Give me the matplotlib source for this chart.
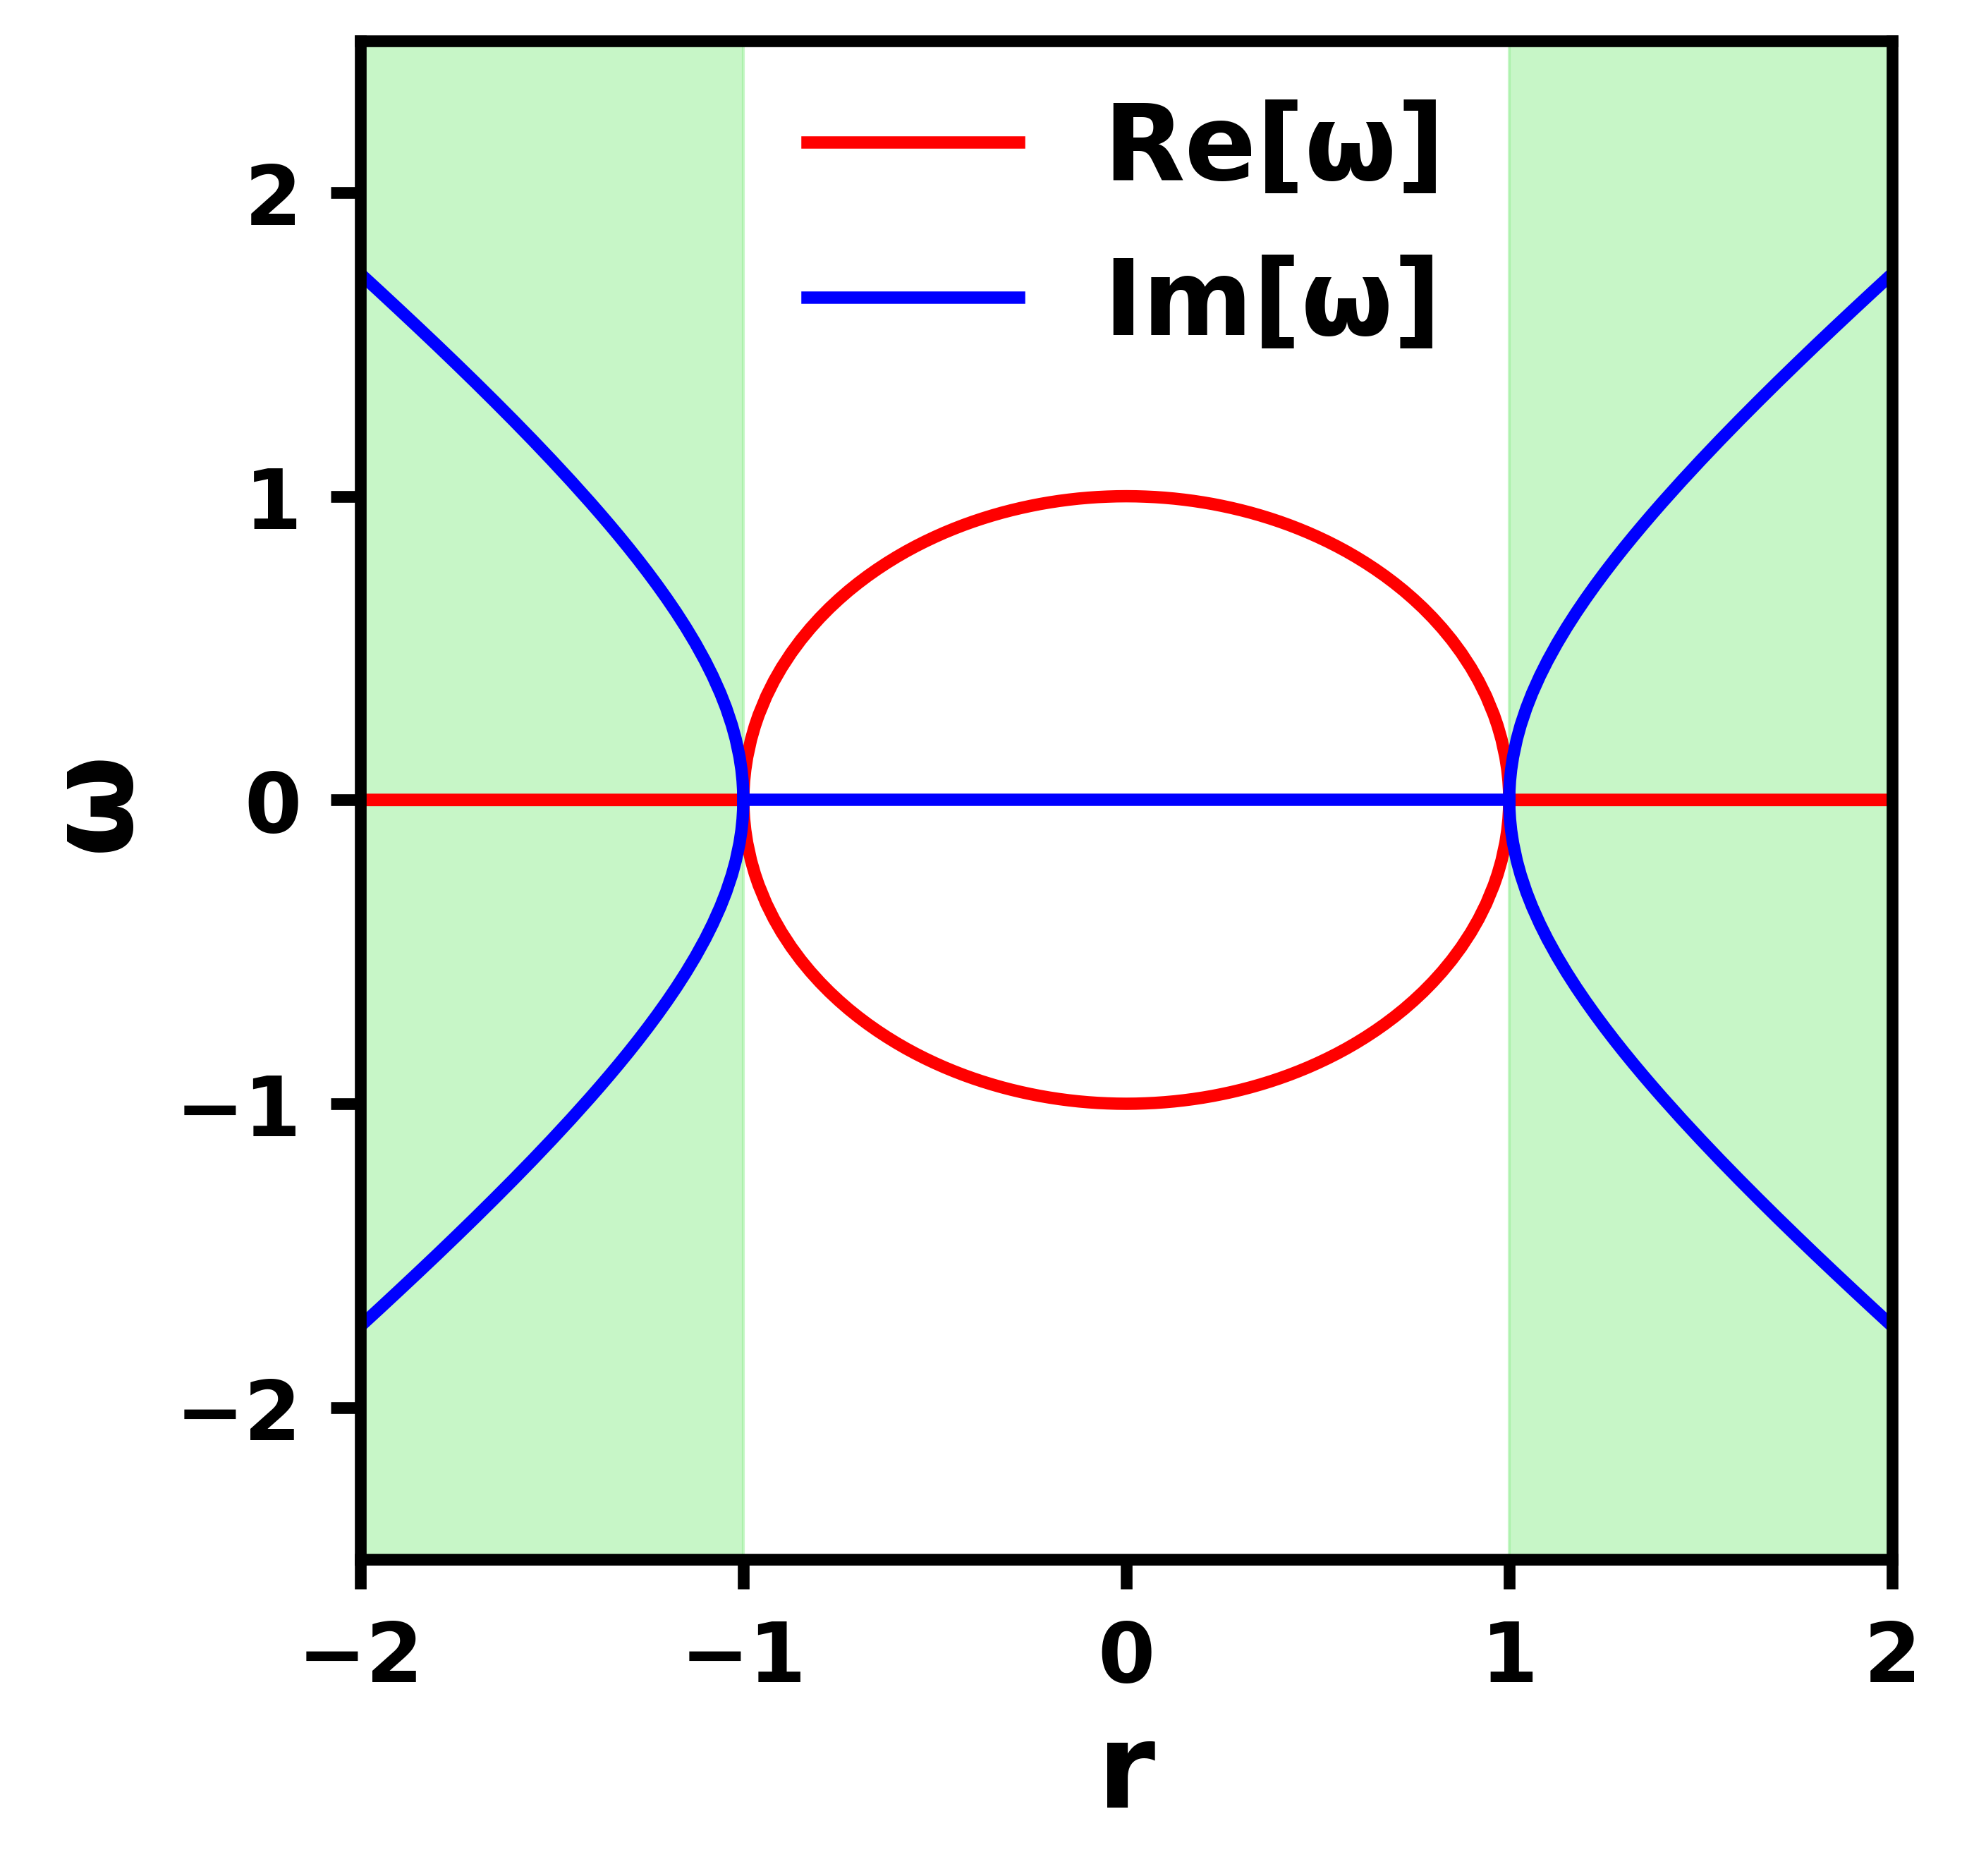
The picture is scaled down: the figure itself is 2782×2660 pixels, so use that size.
import numpy as np
import matplotlib.pyplot as plt

# upper branch of Re[w] for 0 <= r <= 1 (mirrored in r and in sign)
r_re = [0.0, 0.025, 0.05, 0.075, 0.1, 0.125, 0.15, 0.175, 0.2, 0.225, 0.25, 0.275,
        0.3, 0.325, 0.35, 0.375, 0.4, 0.425, 0.45, 0.475, 0.5, 0.525, 0.55, 0.575,
        0.6, 0.625, 0.65, 0.675, 0.7, 0.725, 0.75, 0.775, 0.8, 0.825, 0.85, 0.875,
        0.9, 0.92, 0.94, 0.96, 0.97, 0.98, 0.99, 0.995, 0.998, 0.9995, 1.0]
re_vals = [1.0, 0.9997, 0.9987, 0.9972, 0.9950, 0.9922, 0.9887, 0.9846, 0.9798, 0.9744,
           0.9682, 0.9614, 0.9539, 0.9457, 0.9367, 0.9270, 0.9165, 0.9052, 0.8930,
           0.8800, 0.8660, 0.8511, 0.8352, 0.8182, 0.8000, 0.7806, 0.7599, 0.7378,
           0.7141, 0.6888, 0.6614, 0.6320, 0.6000, 0.5651, 0.5268, 0.4841, 0.4359,
           0.3919, 0.3412, 0.2800, 0.2431, 0.1990, 0.1411, 0.0999, 0.0632, 0.0316, 0.0]

# upper branch of Im[w] for 1 <= r <= 2 (mirrored in r and in sign)
r_im = [1.0, 1.0005, 1.002, 1.005, 1.01, 1.02, 1.03, 1.045, 1.06, 1.08, 1.1, 1.125,
        1.15, 1.175, 1.2, 1.225, 1.25, 1.275, 1.3, 1.325, 1.35, 1.375, 1.4, 1.45,
        1.5, 1.55, 1.6, 1.65, 1.7, 1.75, 1.8, 1.85, 1.9, 1.95, 2.0]
im_vals = [0.0, 0.0316, 0.0633, 0.1001, 0.1418, 0.2010, 0.2468, 0.3034, 0.3516, 0.4079,
           0.4583, 0.5154, 0.5679, 0.6170, 0.6633, 0.7075, 0.7500, 0.7910, 0.8307,
           0.8693, 0.9069, 0.9437, 0.9798, 1.0500, 1.1180, 1.1843, 1.2490, 1.3124,
           1.3748, 1.4361, 1.4967, 1.5564, 1.6155, 1.6741, 1.7321]

r_min, r_max = -2, 2
xticks = [-2, -1, 0, 1, 2]
yticks = [-2, -1, 0, 1, 2]


def mirrored(r, v):
    r = np.asarray(r)
    v = np.asarray(v)
    return np.concatenate([-r[::-1], r[1:]]), np.concatenate([v[::-1], v[1:]])


def main():
    plt.rcParams['font.weight'] = 'bold'
    plt.rcParams['axes.labelweight'] = 'bold'

    fig = plt.figure(figsize=(2782 / 300, 2661 / 300), dpi=300)
    ax = fig.add_axes([0.1837, 0.1687, 0.7807, 0.8093])

    # Re: circle for |r| < 1, zero outside
    xr, yr = mirrored(r_re, re_vals)
    x_re = np.concatenate([[r_min], xr, [r_max]])
    y_re = np.concatenate([[0.0], yr, [0.0]])
    # Im: hyperbola for |r| > 1, zero inside
    xi = np.asarray(r_im)
    yi = np.asarray(im_vals)

    lw = 4.2
    ax.plot(x_re, y_re, color='red', lw=lw, label='Re[\u03c9]')
    ax.plot(x_re, -y_re, color='red', lw=lw)

    ax.plot(xi, yi, color='blue', lw=lw, label='Im[\u03c9]')
    ax.plot(xi, -yi, color='blue', lw=lw)
    ax.plot(-xi, yi, color='blue', lw=lw)
    ax.plot(-xi, -yi, color='blue', lw=lw)
    ax.plot([-1, 1], [0, 0], color='blue', lw=lw)

    ax.axvspan(-2, -1, color='lightgreen', alpha=0.5, zorder=0)
    ax.axvspan(1, 2, color='lightgreen', alpha=0.5, zorder=0)

    ax.set_xlim(-2, 2)
    ax.set_ylim(-2.5, 2.5)
    ax.set_xticks(xticks)
    ax.set_yticks(yticks)
    ax.tick_params(labelsize=28, width=4, length=10, pad=10)
    for s in ax.spines.values():
        s.set_linewidth(4)

    ax.set_xlabel('r', fontsize=40, labelpad=6)
    ax.set_ylabel('\u03c9', fontsize=40, labelpad=8)

    ax.legend(loc='upper center', fontsize=36, frameon=False, borderaxespad=0.15)

    fig.savefig('out.png', dpi=300)


if __name__ == '__main__':
    main()
